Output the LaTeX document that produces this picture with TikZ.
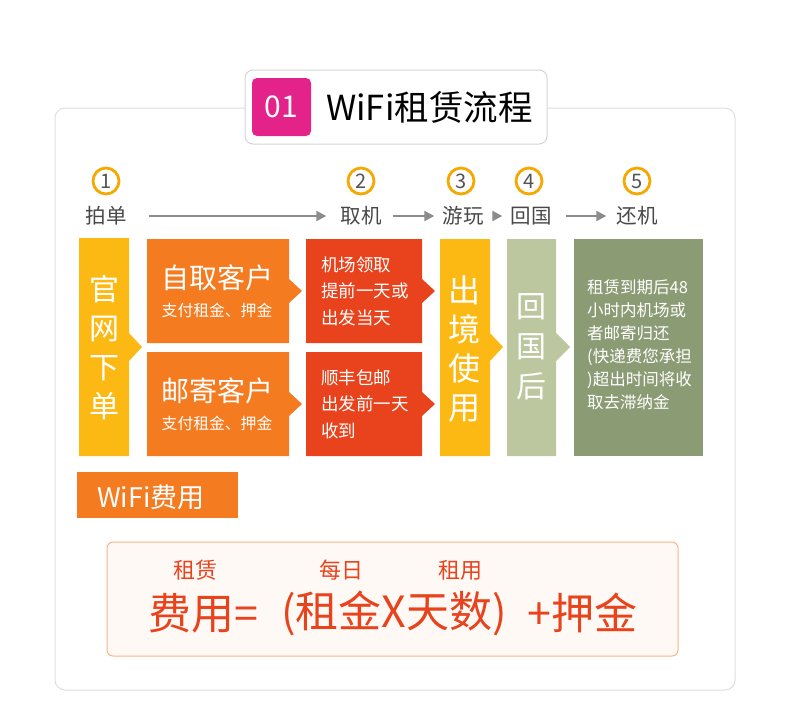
\documentclass[tikz,border=0pt]{standalone}
\usepackage{fontspec}
\setmainfont{Noto Sans CJK SC}
\usetikzlibrary{arrows.meta}
\definecolor{cyel}{RGB}{253,185,19}
\definecolor{corg}{RGB}{244,123,32}
\definecolor{cred}{RGB}{232,67,28}
\definecolor{csage}{RGB}{188,199,159}
\definecolor{cdsage}{RGB}{139,156,117}
\definecolor{cpink}{RGB}{228,35,138}
\definecolor{ccirc}{RGB}{245,168,0}
\definecolor{carrow}{RGB}{140,140,140}
\definecolor{cframe}{RGB}{222,222,222}
\definecolor{ctext}{RGB}{40,40,40}
\definecolor{cfbg}{RGB}{255,249,245}
\definecolor{cfborder}{RGB}{249,180,138}
\tikzset{
  wt/.style={text=white, inner sep=0pt},
  numcirc/.style={circle, draw=ccirc, line width=2.8pt, minimum size=26pt, inner sep=0pt, font=\fontsize{20}{20}\selectfont, text=ctext!80},
  steplabel/.style={inner sep=0pt, font=\fontsize{20.5}{20.5}\selectfont, text=ctext!85},
  flowarrow/.style={draw=carrow, line width=2pt, -{Triangle[length=10pt,width=10pt]}},
  vtext/.style={wt, align=center},
  smalllab/.style={inner sep=0pt, text=cred, font=\fontsize{22}{22}\selectfont},
  bigform/.style={inner sep=0pt, text=cred, anchor=west, font=\fontsize{43}{43}\selectfont},
}
\begin{document}
\begin{tikzpicture}[x=1pt,y=-1pt]
\useasboundingbox (0,0) rectangle (790,728);
% outer panel
\draw[cframe, line width=1pt, rounded corners=10pt] (55,108) rectangle (735,690);
% title box
\draw[cframe!90!gray, fill=white, line width=1pt, rounded corners=8pt] (245,70) rectangle (547,144);
\fill[cpink, rounded corners=5pt] (252,78) rectangle (311,136);
\node[wt, font=\fontsize{30}{30}\selectfont] (num) at (281.5,107) {01};
\node[inner sep=0pt, font=\fontsize{34.5}{34.5}\selectfont, text=black, anchor=west] (title) at (326,107) {WiFi租赁流程};
% circles
\node[numcirc] (c1) at (106,181) {1};
\node[numcirc] (c2) at (361,181) {2};
\node[numcirc] (c3) at (461,181) {3};
\node[numcirc] (c4) at (529,181) {4};
\node[numcirc] (c5) at (637,181) {5};
% step labels
\node[steplabel] (l1) at (106,216) {拍单};
\node[steplabel] (l2) at (361,216) {取机};
\node[steplabel] (l3) at (463,216) {游玩};
\node[steplabel] (l4) at (531,216) {回国};
\node[steplabel] (l5) at (637,216) {还机};
\draw[flowarrow, shorten <=22pt, shorten >=14pt] (l1) -- (l2);
\draw[flowarrow, shorten <=11pt, shorten >=8pt] (l2) -- (l3);
\draw[flowarrow, shorten <=10pt, shorten >=8pt] (l3) -- (l4);
\draw[flowarrow, shorten <=14pt, shorten >=10pt] (l4) -- (l5);
% boxes
\fill[cyel] (79,238) -- (129,238) -- (129,333) -- (142,347) -- (129,361) -- (129,456) -- (79,456) -- cycle;
\fill[corg] (147,239) -- (289,239) -- (289,279) -- (302,291) -- (289,303) -- (289,343) -- (147,343) -- cycle;
\fill[corg] (147,352) -- (289,352) -- (289,392) -- (302,404) -- (289,416) -- (289,456) -- (147,456) -- cycle;
\fill[cred] (306,239) -- (422,239) -- (422,279) -- (435,291) -- (422,303) -- (422,343) -- (306,343) -- cycle;
\fill[cred] (306,352) -- (422,352) -- (422,392) -- (435,404) -- (422,416) -- (422,456) -- (306,456) -- cycle;
\fill[cyel] (440,239) -- (490,239) -- (490,333) -- (503,347) -- (490,361) -- (490,456) -- (440,456) -- cycle;
\fill[csage] (507,239) -- (556,239) -- (556,333) -- (570,347) -- (556,361) -- (556,456) -- (507,456) -- cycle;
\fill[cdsage] (574,239) rectangle (703,456);
% box texts
\node[vtext, font=\fontsize{30}{39}\selectfont] (t1) at (104,348) {官\\网\\下\\单};
\node[wt, font=\fontsize{28}{28}\selectfont] (t2a) at (217,278) {自取客户};
\node[wt, font=\fontsize{15.8}{15.8}\selectfont] (t2b) at (217,310) {支付租金、押金};
\node[wt, font=\fontsize{28}{28}\selectfont] (t3a) at (217,391) {邮寄客户};
\node[wt, font=\fontsize{15.8}{15.8}\selectfont] (t3b) at (217,423) {支付租金、押金};
\node[wt, align=left, anchor=west, font=\fontsize{17.5}{26.5}\selectfont] (t4) at (321,291) {机场领取\\提前一天或\\出发当天};
\node[wt, align=left, anchor=west, font=\fontsize{17.5}{26.5}\selectfont] (t5) at (321,404) {顺丰包邮\\出发前一天\\收到};
\node[vtext, font=\fontsize{32}{39}\selectfont] (t6) at (464,349) {出\\境\\使\\用};
\node[vtext, font=\fontsize{30}{40}\selectfont] (t7) at (531,347) {回\\国\\后};
\node[wt, align=left, anchor=west, font=\fontsize{16.5}{23}\selectfont] (t8) at (587,344.5) {租赁到期后48\\小时内机场或\\者邮寄归还\\(快递费您承担\\)超出时间将收\\取去滞纳金};
% WiFi fee
\fill[corg] (77,472) rectangle (238,518);
\node[wt, anchor=west, font=\fontsize{27}{27}\selectfont] (fee) at (97,497) {WiFi费用};
% formula
\draw[cfborder, fill=cfbg, line width=1pt, rounded corners=6pt] (107,542) rectangle (678,656);
\node[smalllab] (s1) at (195,570) {租赁};
\node[smalllab] (s2) at (341,570) {每日};
\node[smalllab] (s3) at (460,570) {租用};
\node[bigform] (f1) at (148,613) {费用=};
\node[bigform] (f2) at (281,613) {(租金X天数)};
\node[bigform] (f3) at (527,613) {+押金};
\end{tikzpicture}
\end{document}
